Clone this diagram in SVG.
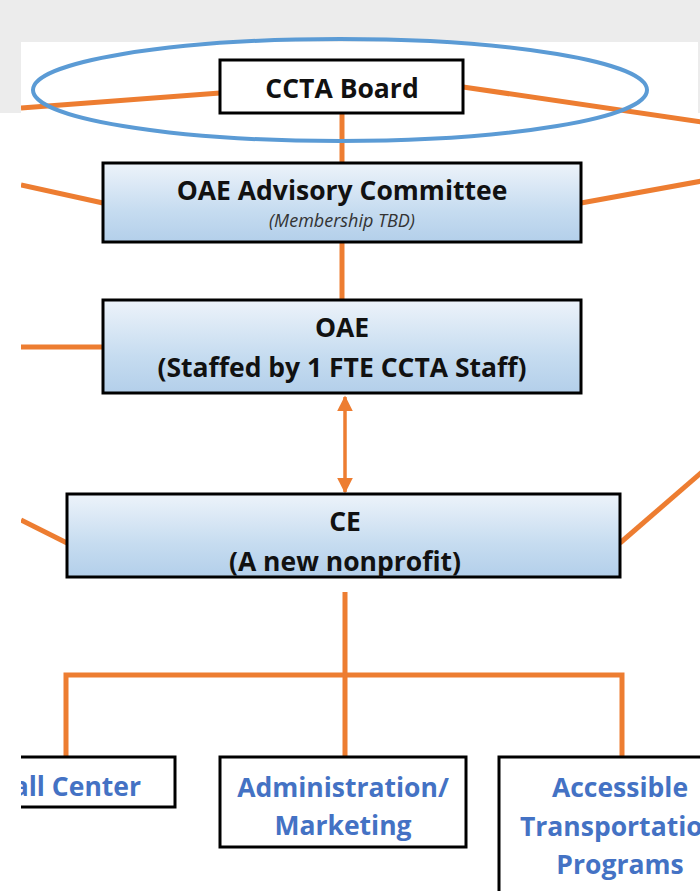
<svg xmlns="http://www.w3.org/2000/svg" width="700" height="891" viewBox="0 0 700 891">
<defs>
<linearGradient id="g" x1="0" y1="0" x2="0" y2="1">
<stop offset="0" stop-color="#edf3fa"/>
<stop offset="0.6" stop-color="#c6dcf0"/>
<stop offset="1" stop-color="#b3cfea"/>
</linearGradient>
<marker id="ah" viewBox="0 0 10 10" refX="9" refY="5" markerWidth="4.5" markerHeight="4.5" orient="auto-start-reverse">
<path d="M0,0 L10,5 L0,10 z" fill="#ed7d31"/>
</marker>
<clipPath id="c"><rect x="21" y="42" width="679" height="849"/></clipPath>
</defs>
<style>
.box{stroke:#000;stroke-width:3}
.wb{fill:#fff}
.gb{fill:url(#g)}
.ln{stroke:#ed7d31;stroke-width:5;fill:none}
.t{font-family:"Open Sans","Liberation Sans",Arial,sans-serif;font-weight:bold;font-size:26.5px;fill:#111;text-anchor:middle}
.it{font-family:"Open Sans","Liberation Sans",Arial,sans-serif;font-style:italic;font-size:18px;fill:#333;text-anchor:middle}
.b{font-family:"Open Sans","Liberation Sans",Arial,sans-serif;font-weight:bold;font-size:26.5px;fill:#4472c4;text-anchor:middle}
</style>
<rect x="0" y="0" width="700" height="891" fill="#ececec"/>
<rect x="21" y="42" width="677" height="71" fill="#fff"/>
<rect x="0" y="113" width="700" height="778" fill="#fff"/>
<g clip-path="url(#c)">
<g id="connectors">
<line class="ln" x1="21" y1="108" x2="220" y2="93"/>
<line class="ln" x1="463" y1="87" x2="702" y2="122"/>
<line class="ln" x1="342" y1="113" x2="342" y2="163"/>
<line class="ln" x1="21" y1="185" x2="103" y2="203"/>
<line class="ln" x1="581" y1="203" x2="702" y2="181"/>
<line class="ln" x1="342" y1="242" x2="342" y2="300"/>
<line class="ln" x1="21" y1="347" x2="103" y2="347"/>
<line stroke="#ed7d31" stroke-width="3.5" x1="345" y1="397" x2="345" y2="492" marker-start="url(#ah)" marker-end="url(#ah)"/>
<line class="ln" x1="21" y1="520" x2="67" y2="543"/>
<line class="ln" x1="620" y1="543" x2="702" y2="472"/>
<line class="ln" x1="345" y1="592" x2="345" y2="757"/>
<polyline class="ln" points="66,757 66,675 622,675 622,757"/>
</g>
<g id="ccta-board">
<rect class="box wb" x="220" y="60" width="243" height="53"/>
<text class="t" x="342" y="98">CCTA Board</text>
</g>
<g id="oae-advisory">
<rect class="box gb" x="103" y="163" width="478" height="79"/>
<text class="t" x="342" y="200">OAE Advisory Committee</text>
<text class="it" x="342" y="227">(Membership TBD)</text>
</g>
<g id="oae">
<rect class="box gb" x="103" y="300" width="478" height="93"/>
<text class="t" x="342" y="337">OAE</text>
<text class="t" x="342" y="377">(Staffed by 1 FTE CCTA Staff)</text>
</g>
<g id="ce">
<rect class="box gb" x="67" y="494" width="553" height="83"/>
<text class="t" x="345" y="531">CE</text>
<text class="t" x="345" y="571">(A new nonprofit)</text>
</g>
<g id="call-center">
<rect class="box wb" x="-40" y="757" width="215" height="50"/>
<text class="b" x="141" y="796" style="text-anchor:end">Call Center</text>
</g>
<g id="admin">
<rect class="box wb" x="220" y="757" width="246" height="90"/>
<text class="b" x="343" y="797">Administration/</text>
<text class="b" x="343" y="835">Marketing</text>
</g>
<g id="accessible">
<rect class="box wb" x="499" y="757" width="260" height="150"/>
<text class="b" x="620" y="797">Accessible</text>
<text class="b" x="620" y="836">Transportation</text>
<text class="b" x="620" y="874">Programs</text>
</g>
</g>
<ellipse cx="340" cy="90" rx="307" ry="51" fill="none" stroke="#5b9bd5" stroke-width="4"/>
</svg>
